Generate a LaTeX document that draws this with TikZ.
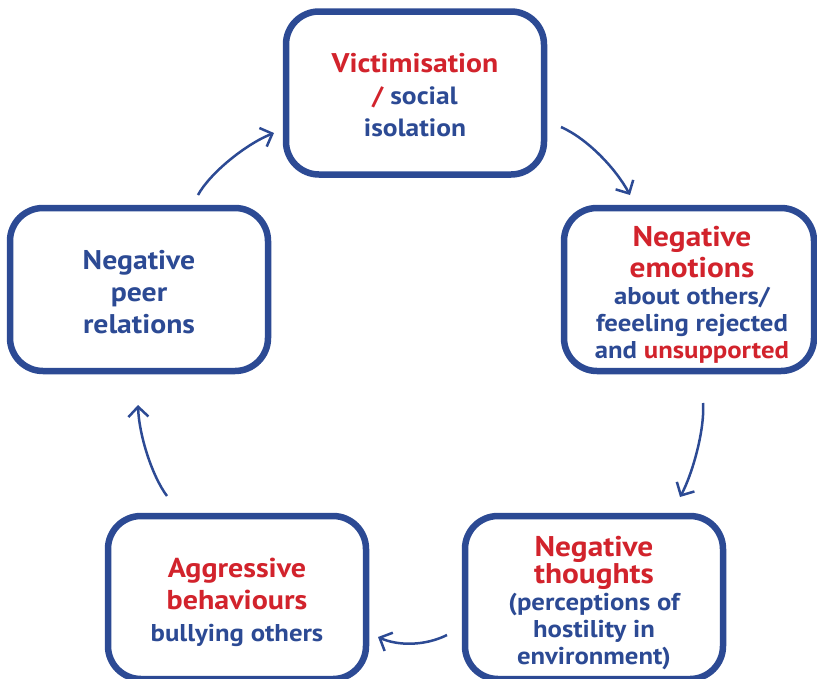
\documentclass[tikz,border=0pt]{standalone}
\usepackage{fontspec}
\setmainfont[FakeStretch=1.1]{PT Sans}
\usetikzlibrary{arrows.meta}
\definecolor{cblue}{RGB}{44,74,148}
\definecolor{cred}{RGB}{210,35,44}
\newcommand{\rd}[1]{\textcolor{cred}{#1}}
\newcommand{\ttl}{\fontsize{28.5}{31}\selectfont}
\AtBeginDocument{\lineskiplimit=-20pt\relax}
\begin{document}
\begin{tikzpicture}[x=1pt,y=-1pt,
  cbox/.style={draw=cblue, line width=6.5pt, rounded corners=33pt, fill=white,
    inner sep=0pt, minimum width=258pt, minimum height=163pt},
  txt/.style={inner sep=0pt, align=center, text=cblue},
  arr/.style={draw=cblue, line width=2.5pt, -{Straight Barb[length=10pt,width=20pt]}},
  big/.style={font=\bfseries\fontsize{25}{32}\selectfont},
  small/.style={font=\bfseries\fontsize{24.3}{27}\selectfont}]
\useasboundingbox (0,0) rectangle (817,678);
\node[cbox] (vic) at (415,93) {};
\node[cbox,minimum width=250pt] (emo) at (689,289.5) {};
\node[cbox] (tho) at (594,597.5) {};
\node[cbox] (agg) at (237,597.5) {};
\node[cbox] (peer) at (139,289.5) {};
\node[txt,big] (vict) at ([yshift=-2pt]vic.center)
  {{\fontsize{27}{32}\selectfont\rd{Victimisation}}\\ \rd{/} social\\ isolation};
\node[txt,small] (emot) at ([xshift=3pt,yshift=-5pt]emo.center)
  {{\ttl\rd{Negative}}\\[4pt]
   {\ttl\rd{emotions}}\\
   about others/\\ feeeling rejected\\ and \rd{unsupported}};
\node[txt,small] (thot) at ([yshift=-5.5pt]tho.center)
  {{\ttl\rd{Negative}}\\
   {\ttl\rd{thoughts}}\\
   (perceptions of\\ hostility in\\ environment)};
\node[txt,big] (aggt) at ([yshift=-4.5pt]agg.center)
  {{\fontsize{27.3}{32}\selectfont\rd{Aggressive}}\\ {\fontsize{27.3}{32}\selectfont\rd{behaviours}}\\ {\fontsize{24.3}{27}\selectfont bullying others}};
\node[txt,font=\bfseries\fontsize{27}{32}\selectfont] (peert) at ([yshift=-3pt]peer.center)
  {Negative\\ peer\\ relations};
\coordinate (a1s) at (561,127); \coordinate (a1e) at (630,195);
\coordinate (a2s) at (703,403); \coordinate (a2e) at (680,497);
\coordinate (a3s) at (447,635); \coordinate (a3e) at (378,637);
\coordinate (a4s) at (167,496); \coordinate (a4e) at (138,405);
\coordinate (a5s) at (198,195); \coordinate (a5e) at (274,133);
\draw[arr] (a1s) .. controls (588,139) and (616,169) .. (a1e);
\draw[arr] (a2s) .. controls (705,430) and (692,475) .. (a2e);
\draw[arr] (a3s) .. controls (425,646) and (398,646) .. (a3e);
\draw[arr] (a4s) .. controls (152,476) and (139,435) .. (a4e);
\draw[arr] (a5s) .. controls (210,173) and (246,144) .. (a5e);
\end{tikzpicture}
\end{document}
